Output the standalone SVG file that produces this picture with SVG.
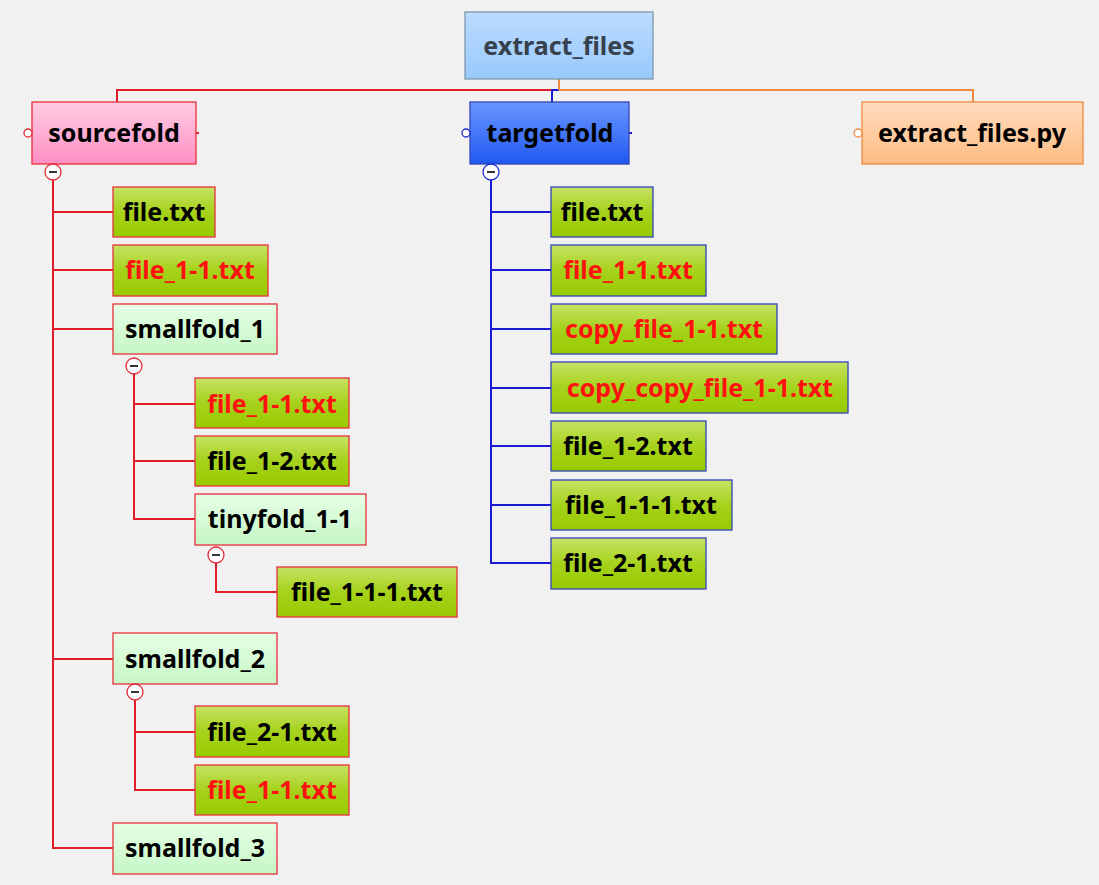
<svg xmlns="http://www.w3.org/2000/svg" width="1099" height="885" viewBox="0 0 1099 885">
<defs>
<linearGradient id="gGreen" x1="0" y1="0" x2="0" y2="1"><stop offset="0" stop-color="#c6e264"/><stop offset="0.5" stop-color="#a6d21c"/><stop offset="1" stop-color="#98cb00"/></linearGradient>
<linearGradient id="gLight" x1="0" y1="0" x2="0" y2="1"><stop offset="0" stop-color="#e6ffe6"/><stop offset="1" stop-color="#c6f6c6"/></linearGradient>
<linearGradient id="gPink" x1="0" y1="0" x2="0" y2="1"><stop offset="0" stop-color="#ffcce2"/><stop offset="1" stop-color="#ff8fc4"/></linearGradient>
<linearGradient id="gBlue" x1="0" y1="0" x2="0" y2="1"><stop offset="0" stop-color="#6a96ff"/><stop offset="1" stop-color="#2058f0"/></linearGradient>
<linearGradient id="gOrange" x1="0" y1="0" x2="0" y2="1"><stop offset="0" stop-color="#ffdcbc"/><stop offset="1" stop-color="#ffbc84"/></linearGradient>
<linearGradient id="gRoot" x1="0" y1="0" x2="0" y2="1"><stop offset="0" stop-color="#bcdcff"/><stop offset="1" stop-color="#98c8fc"/></linearGradient>
</defs>
<style>
text{font-family:"Noto Sans","Open Sans","Liberation Sans",sans-serif;font-weight:bold;font-size:25px;text-anchor:middle;fill:#000}
.red{fill:#ff1111}
.rb{stroke:#e8303a;stroke-width:1.3}
.bb{stroke:#3344bb;stroke-width:1.3}
.gf{fill:url(#gGreen)}
.lf{fill:url(#gLight)}
#connectors{shape-rendering:crispEdges}
.cr{fill:none;stroke:#e01c28;stroke-width:1.3}
.cb{fill:none;stroke:#1a1ad0;stroke-width:1.3}
.co{fill:none;stroke:#f08a40;stroke-width:1.3}
.tg{fill:#fff;stroke:#e02a34;stroke-width:1.3}
.tgb{fill:#fff;stroke:#1a2ad0;stroke-width:1.3}
.minus{stroke:#333;stroke-width:2}
</style>
<rect width="1099" height="885" fill="#f1f1f1"/>

<g id="connectors">
<polyline class="cr" points="117,102 117,90 559,90"/>
<polyline class="co" points="559,90 973,90 973,102"/>
<polyline class="cb" points="559,90 552,90 552,102"/>
<line class="co" x1="559" y1="79" x2="559" y2="90"/>
<line class="cr" x1="196" y1="133" x2="199" y2="133"/>
<line class="cb" x1="629" y1="133" x2="632" y2="133"/>
<polyline class="cr" points="53,180 53,848 113,848"/>
<line class="cr" x1="53" y1="212" x2="113" y2="212"/>
<line class="cr" x1="53" y1="270" x2="113" y2="270"/>
<line class="cr" x1="53" y1="329" x2="113" y2="329"/>
<line class="cr" x1="53" y1="659" x2="113" y2="659"/>
<polyline class="cr" points="134,374 134,519 195,519"/>
<line class="cr" x1="134" y1="404" x2="195" y2="404"/>
<line class="cr" x1="134" y1="461" x2="195" y2="461"/>
<polyline class="cr" points="216,563 216,592 277,592"/>
<polyline class="cr" points="135,700 135,790 195,790"/>
<line class="cr" x1="135" y1="732" x2="195" y2="732"/>
<polyline class="cb" points="491,180 491,563 551,563"/>
<line class="cb" x1="491" y1="212" x2="551" y2="212"/>
<line class="cb" x1="491" y1="270" x2="551" y2="270"/>
<line class="cb" x1="491" y1="329" x2="551" y2="329"/>
<line class="cb" x1="491" y1="388" x2="551" y2="388"/>
<line class="cb" x1="491" y1="446" x2="551" y2="446"/>
<line class="cb" x1="491" y1="505" x2="551" y2="505"/>
</g>

<g id="root">
<rect x="465" y="12" width="188" height="67" fill="url(#gRoot)" stroke="#7f98ad" stroke-width="1.3"/>
<text x="559" y="55" style="fill:#36414d">extract_files</text>
</g>

<g id="sourcefold">
<rect x="32" y="102" width="164" height="62" fill="url(#gPink)" class="rb"/>
<text x="114" y="142">sourcefold</text>
<circle cx="28" cy="133" r="4" class="tg"/>
<circle cx="53" cy="172" r="8" class="tg"/><line class="minus" x1="49" y1="172" x2="57" y2="172"/>
</g>

<g id="targetfold">
<rect x="470" y="102" width="159" height="62" fill="url(#gBlue)" class="bb"/>
<text x="550" y="142">targetfold</text>
<circle cx="466" cy="133" r="4" class="tgb"/>
<circle cx="491" cy="172" r="8" class="tgb"/><line class="minus" x1="487" y1="172" x2="495" y2="172"/>
</g>

<g id="extract_files_py">
<rect x="862" y="102" width="221" height="62" fill="url(#gOrange)" stroke="#f08a40" stroke-width="1.3"/>
<text x="972" y="142">extract_files.py</text>
<circle cx="858" cy="133" r="4" fill="#fff" stroke="#f08a40" stroke-width="1.3"/>
</g>

<g id="s_file"><rect x="113" y="187" width="102" height="50" class="gf rb"/><text x="164" y="221">file.txt</text></g>
<g id="s_file_1-1"><rect x="113" y="245" width="155" height="51" class="gf rb"/><text x="190" y="279" class="red">file_1-1.txt</text></g>
<g id="smallfold_1"><rect x="113" y="304" width="164" height="50" class="lf rb"/><text x="195" y="338">smallfold_1</text>
<circle cx="134" cy="366" r="8" class="tg"/><line class="minus" x1="130" y1="366" x2="138" y2="366"/></g>
<g id="s1_file_1-1"><rect x="195" y="378" width="154" height="50" class="gf rb"/><text x="272" y="413" class="red">file_1-1.txt</text></g>
<g id="s1_file_1-2"><rect x="195" y="436" width="154" height="50" class="gf rb"/><text x="272" y="470">file_1-2.txt</text></g>
<g id="tinyfold_1-1"><rect x="195" y="494" width="171" height="51" class="lf rb"/><text x="280" y="528">tinyfold_1-1</text>
<circle cx="216" cy="555" r="8" class="tg"/><line class="minus" x1="212" y1="555" x2="220" y2="555"/></g>
<g id="t1_file_1-1-1"><rect x="277" y="567" width="180" height="50" class="gf rb"/><text x="367" y="601">file_1-1-1.txt</text></g>
<g id="smallfold_2"><rect x="113" y="633" width="164" height="51" class="lf rb"/><text x="195" y="668">smallfold_2</text>
<circle cx="135" cy="692" r="8" class="tg"/><line class="minus" x1="131" y1="692" x2="139" y2="692"/></g>
<g id="s2_file_2-1"><rect x="195" y="706" width="154" height="51" class="gf rb"/><text x="272" y="741">file_2-1.txt</text></g>
<g id="s2_file_1-1"><rect x="195" y="765" width="154" height="50" class="gf rb"/><text x="272" y="799" class="red">file_1-1.txt</text></g>
<g id="smallfold_3"><rect x="113" y="823" width="164" height="51" class="lf rb"/><text x="195" y="857">smallfold_3</text></g>

<g id="t_file"><rect x="551" y="187" width="102" height="50" class="gf bb"/><text x="602" y="221">file.txt</text></g>
<g id="t_file_1-1"><rect x="551" y="245" width="155" height="51" class="gf bb"/><text x="628" y="279" class="red">file_1-1.txt</text></g>
<g id="t_copy_file_1-1"><rect x="551" y="304" width="226" height="50" class="gf bb"/><text x="664" y="338" class="red">copy_file_1-1.txt</text></g>
<g id="t_copy_copy_file_1-1"><rect x="551" y="362" width="297" height="51" class="gf bb"/><text x="700" y="397" class="red">copy_copy_file_1-1.txt</text></g>
<g id="t_file_1-2"><rect x="551" y="421" width="155" height="50" class="gf bb"/><text x="628" y="455">file_1-2.txt</text></g>
<g id="t_file_1-1-1"><rect x="551" y="480" width="181" height="50" class="gf bb"/><text x="641" y="514">file_1-1-1.txt</text></g>
<g id="t_file_2-1"><rect x="551" y="538" width="155" height="51" class="gf bb"/><text x="628" y="572">file_2-1.txt</text></g>
</svg>
